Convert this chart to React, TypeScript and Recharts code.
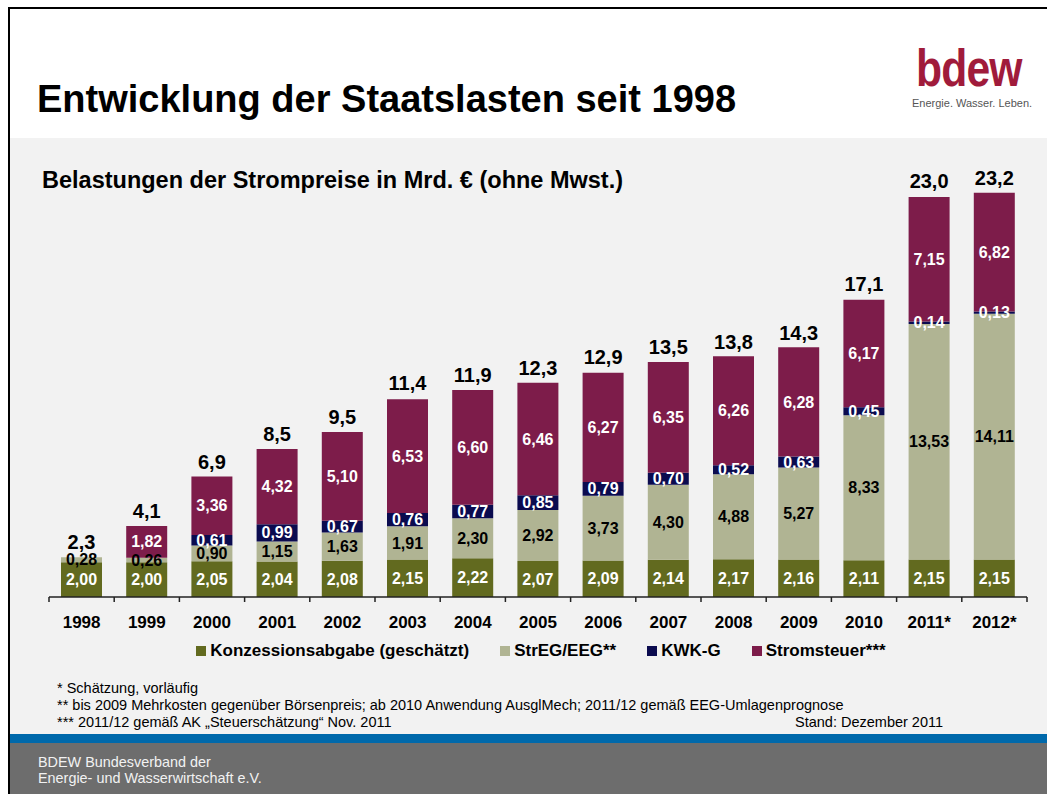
import React from 'react';
import { BarChart, Bar, XAxis, YAxis, Legend, LabelList } from 'recharts';

const years = ['1998', '1999', '2000', '2001', '2002', '2003', '2004', '2005', '2006', '2007', '2008', '2009', '2010', '2011*', '2012*'];
const konzession = [2.0, 2.0, 2.05, 2.04, 2.08, 2.15, 2.22, 2.07, 2.09, 2.14, 2.17, 2.16, 2.11, 2.15, 2.15];
const eeg = [0.28, 0.26, 0.9, 1.15, 1.63, 1.91, 2.3, 2.92, 3.73, 4.3, 4.88, 5.27, 8.33, 13.53, 14.11];
const kwk = [0, 0, 0.61, 0.99, 0.67, 0.76, 0.77, 0.85, 0.79, 0.7, 0.52, 0.63, 0.45, 0.14, 0.13];
const stromsteuer = [0, 1.82, 3.36, 4.32, 5.1, 6.53, 6.6, 6.46, 6.27, 6.35, 6.26, 6.28, 6.17, 7.15, 6.82];
const totals = [2.3, 4.1, 6.9, 8.5, 9.5, 11.4, 11.9, 12.3, 12.9, 13.5, 13.8, 14.3, 17.1, 23.0, 23.2];

const seriesNames = ['Konzessionsabgabe (geschätzt)', 'StrEG/EEG**', 'KWK-G', 'Stromsteuer***'];
const seriesColors = ['#626a1f', '#b0b493', '#0b0b4f', '#7d1c4a'];

const data = years.map((year, i) => ({
  year,
  k: konzession[i],
  e: eeg[i],
  w: kwk[i],
  s: stromsteuer[i],
  total: totals[i],
}));

const FONT = '"Liberation Sans", Arial, Helvetica, sans-serif';
const CHART_W = 1047;
const CHART_H = 794;
const M_LEFT = 49;
const M_RIGHT = 20;
const M_TOP = 179;
const M_BOTTOM = 167;
const XAXIS_H = 30;
const PLOT_W = CHART_W - M_LEFT - M_RIGHT;
const AXIS_Y = CHART_H - M_BOTTOM - XAXIS_H;
const BAND = PLOT_W / years.length;

const fmt2 = (v: any) => (v ? Number(v).toFixed(2).replace('.', ',') : '');
const fmt1 = (v: any) => Number(v).toFixed(1).replace('.', ',');

const YearTick = (props: any) => {
  const { x, payload, index } = props;
  const last = index === years.length - 1;
  return (
    <g>
      <line x1={x - BAND / 2} x2={x - BAND / 2} y1={AXIS_Y} y2={AXIS_Y + 5} stroke="#222" strokeWidth={1.5} />
      {last && <line x1={x + BAND / 2} x2={x + BAND / 2} y1={AXIS_Y} y2={AXIS_Y + 5} stroke="#222" strokeWidth={1.5} />}
      <text x={x} y={AXIS_Y + 31} textAnchor="middle" fontFamily={FONT} fontWeight="bold" fontSize={17} fill="#000">
        {payload.value}
      </text>
    </g>
  );
};

const LegendContent = () => (
  <div style={{ display: 'flex', justifyContent: 'center', alignItems: 'center', gap: 31, fontFamily: FONT, fontWeight: 'bold', fontSize: 17, color: '#000' }}>
    {seriesNames.map((n, i) => (
      <div key={n} style={{ display: 'flex', alignItems: 'center' }}>
        <span style={{ display: 'inline-block', width: 10, height: 10, background: seriesColors[i], marginRight: 4 }} />
        <span>{n}</span>
      </div>
    ))}
  </div>
);

const labelStyle = { fontFamily: FONT, fontWeight: 'bold' as const, fontSize: 16 };

export default function App() {
  return (
    <div style={{ position: 'absolute', left: 0, top: 0, width: CHART_W, height: CHART_H, background: '#fff', overflow: 'hidden', fontFamily: FONT }}>
      {/* frame */}
      <div style={{ position: 'absolute', left: 8, top: 7, width: CHART_W - 8, height: 2, background: '#000' }} />
      <div style={{ position: 'absolute', left: 8, top: 7, width: 2, height: CHART_H - 7, background: '#000' }} />
      <div style={{ position: 'absolute', left: 10, top: 138, width: CHART_W - 10, height: 596, background: '#f2f2f2' }} />
      <div style={{ position: 'absolute', left: 10, top: 734, width: CHART_W - 10, height: 9, background: '#0069ab' }} />
      <div style={{ position: 'absolute', left: 10, top: 743, width: CHART_W - 10, height: 51, background: '#6d6d6d' }} />

      {/* title */}
      <div style={{ position: 'absolute', left: 37, top: 79, fontSize: 38, fontWeight: 'bold', color: '#000', whiteSpace: 'nowrap', lineHeight: '40px' }}>
        Entwicklung der Staatslasten seit 1998
      </div>
      {/* logo */}
      <div style={{ position: 'absolute', left: 916, top: 40, fontSize: 52, fontWeight: 'bold', color: '#a01b3b', lineHeight: '56px', whiteSpace: 'nowrap', transform: 'scaleX(0.82)', transformOrigin: 'left top', letterSpacing: -1 }}>
        bdew
      </div>
      <div style={{ position: 'absolute', left: 912, top: 96, fontSize: 11, color: '#555', whiteSpace: 'nowrap', lineHeight: '14px' }}>
        Energie. Wasser. Leben.
      </div>

      {/* subtitle */}
      <div style={{ position: 'absolute', left: 42, top: 166, fontSize: 23.5, fontWeight: 'bold', color: '#000', whiteSpace: 'nowrap', lineHeight: '28px' }}>
        Belastungen der Strompreise in Mrd. € (ohne Mwst.)
      </div>

      <div style={{ position: 'absolute', left: 0, top: 0 }}>
        <BarChart
          width={CHART_W}
          height={CHART_H}
          data={data}
          margin={{ top: M_TOP, right: M_RIGHT, bottom: M_BOTTOM, left: M_LEFT }}
          barSize={41}
        >
          <XAxis
            dataKey="year"
            height={XAXIS_H}
            tickLine={false}
            axisLine={{ stroke: '#222', strokeWidth: 1.5 }}
            tick={<YearTick />}
            interval={0}
          />
          <XAxis xAxisId="tot" dataKey="year" hide />
          <YAxis hide domain={[0, 24]} />
          <Legend
            layout="horizontal"
            verticalAlign="middle"
            align="center"
            content={<LegendContent />}
            wrapperStyle={{ top: 641, left: M_LEFT + 3, width: PLOT_W, height: 22 }}
          />
          <Bar dataKey="k" name={seriesNames[0]} stackId="a" fill={seriesColors[0]} isAnimationActive={false}>
            <LabelList dataKey="k" position="center" formatter={fmt2} fill="#fff" {...labelStyle} />
          </Bar>
          <Bar dataKey="e" name={seriesNames[1]} stackId="a" fill={seriesColors[1]} isAnimationActive={false}>
            <LabelList dataKey="e" position="center" formatter={fmt2} fill="#000" {...labelStyle} />
          </Bar>
          <Bar dataKey="w" name={seriesNames[2]} stackId="a" fill={seriesColors[2]} isAnimationActive={false}>
            <LabelList dataKey="w" position="center" formatter={fmt2} fill="#fff" {...labelStyle} />
          </Bar>
          <Bar dataKey="s" name={seriesNames[3]} stackId="a" fill={seriesColors[3]} isAnimationActive={false}>
            <LabelList dataKey="s" position="center" formatter={fmt2} fill="#fff" {...labelStyle} />
          </Bar>
          <Bar dataKey="total" name="Summe" xAxisId="tot" fill="none" isAnimationActive={false}>
            <LabelList dataKey="total" position="top" offset={8} formatter={fmt1} fill="#000" fontFamily={FONT} fontWeight="bold" fontSize={20} />
          </Bar>
        </BarChart>
      </div>

      {/* footnotes */}
      <div style={{ position: 'absolute', left: 57, top: 680, fontSize: 14.5, color: '#000', lineHeight: '17px', whiteSpace: 'nowrap' }}>
        <div>* Schätzung, vorläufig</div>
        <div>** bis 2009 Mehrkosten gegenüber Börsenpreis; ab 2010 Anwendung AusglMech; 2011/12 gemäß EEG-Umlagenprognose</div>
        <div>*** 2011/12 gemäß AK „Steuerschätzung“ Nov. 2011</div>
      </div>
      <div style={{ position: 'absolute', left: 795, top: 714, fontSize: 14.5, color: '#000', lineHeight: '17px', whiteSpace: 'nowrap' }}>
        Stand: Dezember 2011
      </div>

      {/* footer */}
      <div style={{ position: 'absolute', left: 38, top: 754, fontSize: 14.4, color: '#f2f2f2', lineHeight: '16px', whiteSpace: 'nowrap' }}>
        <div>BDEW Bundesverband der</div>
        <div>Energie- und Wasserwirtschaft e.V.</div>
      </div>
    </div>
  );
}
